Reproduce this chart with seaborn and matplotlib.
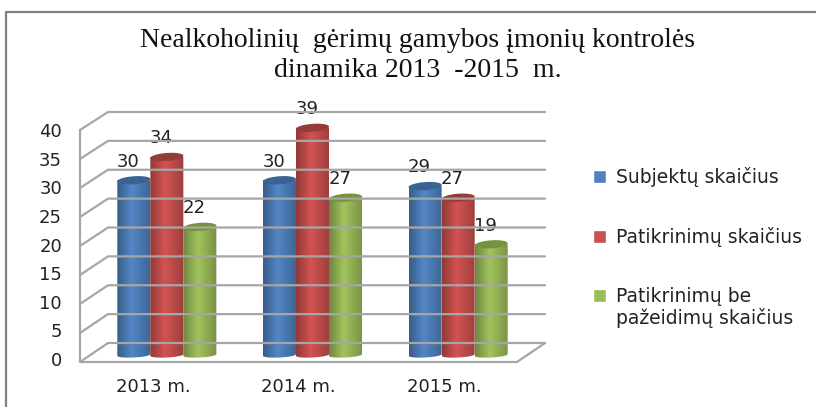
import matplotlib
matplotlib.use("Agg")
import matplotlib.pyplot as plt
import seaborn as sns
import pandas as pd
import numpy as np
from matplotlib.lines import Line2D
from matplotlib.patches import Polygon
from matplotlib.path import Path
from matplotlib.transforms import Affine2D

sns.set_style("white")
plt.rcParams["font.family"] = ["DejaVu Sans"]

# Data
years = ["2013 m.", "2014 m.", "2015 m."]
series_names = ["Subjektų skaičius", "Patikrinimų skaičius", "Patikrinimų be\npažeidimų skaičius"]
subjects = [30, 30, 29]
inspections = [34, 39, 27]
clean_inspections = [22, 27, 19]
y_ticks = [0, 5, 10, 15, 20, 25, 30, 35, 40]
title = "Nealkoholinių  gėrimų gamybos įmonių kontrolės\ndinamika 2013  -2015  m."

colors = ["#4F81BD", "#C9504E", "#9BBB59"]
dark_colors = ["#3A6391", "#943C3A", "#76923C"]

W, H = 816, 407
GRID = "#A6A6A6"

df = pd.DataFrame({
    "year": years * 3,
    "series": [s for s in series_names for _ in years],
    "value": subjects + inspections + clean_inspections,
})

fig = plt.figure(figsize=(W / 100, H / 100), dpi=100, facecolor="white")
px = Affine2D().scale(1, -1).translate(0, H)  # image pixels to display


def rect(x0, x1, y_top, y_bottom):
    return [x0 / W, 1 - y_bottom / H, (x1 - x0) / W, (y_bottom - y_top) / H]


def line(xs, ys, color=GRID, lw=1.6):
    fig.add_artist(Line2D(xs, ys, color=color, lw=lw, transform=px))


# outer picture border
line([6, 6, W], [H, 12, 12], color="#808080", lw=1.6)

# front plane: tick labels
wall = fig.add_axes(rect(80, 517, 130, 359))
wall.set_xlim(-0.5, 2.5)
wall.set_ylim(0, 40)
wall.set_xticks(range(3), years)
wall.set_yticks(y_ticks)
wall.tick_params(axis="y", length=0, pad=13, labelsize=13, labelcolor="#222222")
wall.tick_params(axis="x", length=0, pad=13.5, labelsize=13, labelcolor="#222222")
sns.despine(ax=wall, top=True, right=True, left=True, bottom=True)
wall.patch.set_visible(False)

# 3D wall and floor
for v in y_ticks:
    y_front = 362 - v * 5.8
    y_back = 343 - v * 5.775
    line([80, 108, 545], [y_front, y_back, y_back])
line([80, 80], [130, 362])
line([80, 517, 545], [362, 362, 343])

# bars
ax = fig.add_axes(rect(94, 531, 122, 362))
ax.patch.set_visible(False)
sns.barplot(data=df, x="year", y="value", hue="series", palette=colors, saturation=1,
            width=0.68, gap=0, ax=ax)
ax.set_xlim(-0.5, 2.5)
ax.set_ylim(-1.2, 40)
handles, labels = ax.get_legend_handles_labels()
ax.get_legend().remove()
ax.axis("off")

fig.canvas.draw()
to_px = ax.transData + px.inverted()
t = np.linspace(0, 2 * np.pi, 80)
shade = np.concatenate([np.linspace(0.72, 1.04, 28), np.linspace(1.04, 0.78, 36)])

for i, container in enumerate(ax.containers):
    base = np.array(matplotlib.colors.to_rgb(colors[i]))
    grad = np.clip(shade[None, :, None] * base[None, None, :], 0, 1)
    for bar in container:
        (x0, y0), (x1, y1) = to_px.transform(
            [(bar.get_x(), 0), (bar.get_x() + bar.get_width(), bar.get_height())])
        cx, a = (x0 + x1) / 2, (x1 - x0) / 2
        bottom = np.linspace(np.pi, 0, 30)
        outline = np.column_stack([
            np.r_[x0, cx + a * np.cos(bottom), x1],
            np.r_[y1, y0 + 2.5 * np.sin(bottom) - 0.05 * a * np.cos(bottom), y1],
        ])
        bar.set_visible(False)
        im = ax.imshow(grad, aspect="auto", interpolation="bilinear", zorder=3 + i,
                       extent=(bar.get_x(), bar.get_x() + bar.get_width(), -1.2, bar.get_height()))
        im.set_clip_box(fig.bbox)
        im.set_clip_path(Path(outline), px)
        ax.add_patch(Polygon(np.column_stack([cx + a * np.cos(t),
                                              y1 + 4 * np.sin(t) - 0.07 * a * np.cos(t)]),
                             closed=True, fc=dark_colors[i], ec="none", transform=px,
                             zorder=3 + i, clip_on=False))
        ax.annotate(f"{bar.get_height():.0f}",
                    (bar.get_x() + bar.get_width() / 2, bar.get_height()),
                    xytext=(-4, 13.5), textcoords="offset points", ha="center", va="center",
                    fontsize=13, color="#222222", zorder=10, annotation_clip=False)

ax.set_xlim(-0.5, 2.5)
ax.set_ylim(-1.2, 40)

fig.text(418 / W, 1 - 55.5 / H, title, family="Liberation Serif", fontsize=20,
         ha="center", va="center", linespacing=1.27, color="#111111")

leg = fig.legend(handles, labels, loc="upper left", bbox_to_anchor=(576 / W, 1 - 150 / H),
                 frameon=False, fontsize=13.5, handlelength=0.72, handleheight=0.72,
                 handletextpad=0.5, labelspacing=2.15, labelcolor="#222222")
leg.get_texts()[2].set_linespacing(1.1)
leg.legend_handles[2].set_y(leg.legend_handles[2].get_y() + 9.5)

fig.savefig("out.png", dpi=100)
